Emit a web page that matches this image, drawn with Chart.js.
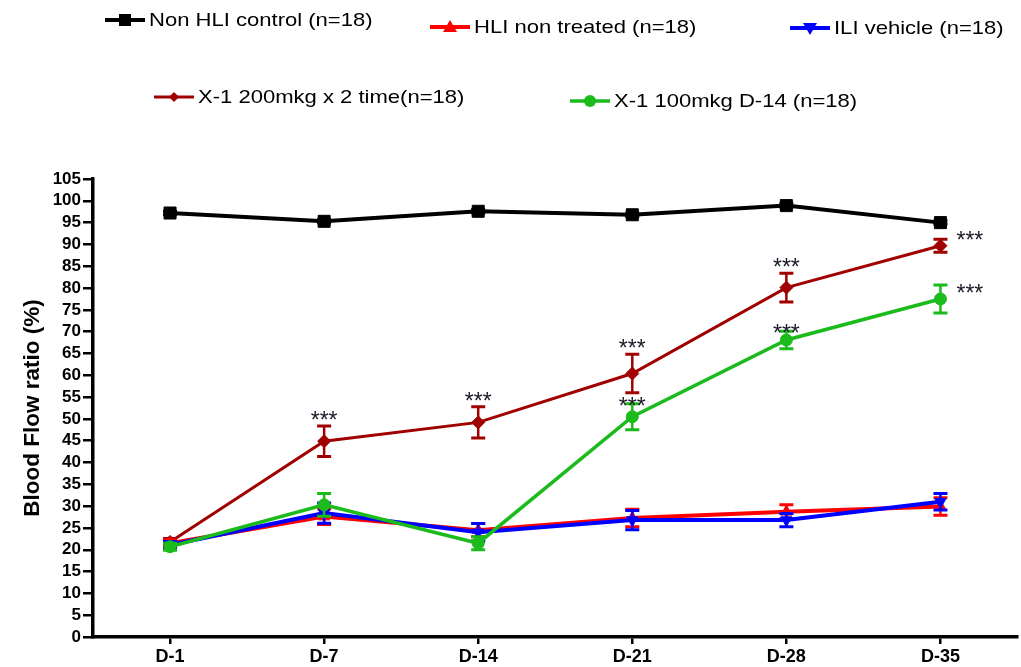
<!DOCTYPE html>
<html><head><meta charset="utf-8">
<script src="https://cdn.jsdelivr.net/npm/chart.js@4.4.1/dist/chart.umd.min.js"></script>
<style>
html,body{margin:0;padding:0;background:#fff;}
#wrap{position:relative;width:1021px;height:667px;overflow:hidden;}
#chart{position:absolute;left:0;top:0;}
.leg{position:absolute;display:flex;align-items:center;font-family:"Liberation Sans",Arial,sans-serif;font-size:19px;color:#000;white-space:nowrap;}
.leg svg{display:block;flex:none;}
.leg span{display:inline-block;transform:scaleX(1.16);transform-origin:left center;margin-left:4px;}
</style></head>
<body>
<div id="wrap"><canvas id="chart" width="1027" height="667"></canvas></div>
<script>
// ---- data ----
const categories = ['D-1', 'D-7', 'D-14', 'D-21', 'D-28', 'D-35'];
const seriesNames = ['Non HLI control (n=18)', 'HLI non treated (n=18)', 'ILI vehicle (n=18)', 'X-1 200mkg x 2 time(n=18)', 'X-1 100mkg D-14 (n=18)'];
const nonHliControl = [97.2, 95.3, 97.6, 96.8, 98.9, 95.0];
const nonHliControlSem = [0.4, 0.4, 0.4, 0.4, 0.4, 0.4];
const hliNonTreated = [21.5, 27.6, 24.5, 27.3, 28.7, 29.9];
const hliNonTreatedSem = [0.8, 1.8, 1.5, 2.0, 1.6, 2.0];
const iliVehicle = [21.1, 28.4, 24.0, 26.8, 26.8, 31.0];
const iliVehicleSem = [0.8, 2.3, 2.0, 2.2, 1.5, 1.9];
const x1High = [21.8, 44.9, 49.2, 60.4, 80.1, 89.7];
const x1HighSem = [0.8, 3.5, 3.6, 4.4, 3.3, 1.5];
const x1Low = [20.7, 30.3, 21.5, 50.5, 68.1, 77.5];
const x1LowSem = [0.8, 2.6, 1.5, 3.0, 2.0, 3.2];
// significance marks (category indices) for the two X-1 series
const sigHigh = [1, 2, 3, 4, 5];
const sigLow = [3, 4, 5];
const sigLabel = '***';
const yTicksMin = 0, yTicksMax = 105, yTicksStep = 5;
const yTitle = 'Blood Flow ratio (%)';

// ---- styles ----
const colors = ['#000000', '#ff0000', '#0000ff', '#a00000', '#1cbb1c'];
const styles = [
  {pointStyle: 'rect', radius: 8.5, rotation: 0, width: 4},
  {pointStyle: 'triangle', radius: 6.5, rotation: 0, width: 4},
  {pointStyle: 'triangle', radius: 6.5, rotation: 180, width: 4},
  {pointStyle: 'rectRot', radius: 6.5, rotation: 0, width: 3},
  {pointStyle: 'circle', radius: 6, rotation: 0, width: 3.5}
];
const values = [nonHliControl, hliNonTreated, iliVehicle, x1High, x1Low];
const sems = [nonHliControlSem, hliNonTreatedSem, iliVehicleSem, x1HighSem, x1LowSem];
const drawOrder = [5, 3, 2, 4, 1];

const datasets = values.map((v, i) => ({
  label: seriesNames[i],
  data: v,
  sem: sems[i],
  borderColor: colors[i],
  backgroundColor: colors[i],
  borderWidth: styles[i].width,
  pointStyle: styles[i].pointStyle,
  pointRadius: styles[i].radius,
  pointRotation: styles[i].rotation,
  pointBorderWidth: 1,
  tension: 0,
  order: drawOrder[i]
}));

const errorBars = {
  id: 'errorBars',
  afterDatasetDraw(chart, args) {
    const ds = chart.data.datasets[args.index];
    const meta = args.meta;
    const y = chart.scales.y;
    const ctx = chart.ctx;
    ctx.save();
    ctx.strokeStyle = ds.borderColor;
    meta.data.forEach((pt, j) => {
      const v = ds.data[j], s = ds.sem[j];
      const yt = y.getPixelForValue(v + s), yb = y.getPixelForValue(v - s);
      const x = pt.x;
      ctx.lineWidth = 2.5;
      ctx.beginPath(); ctx.moveTo(x, yt); ctx.lineTo(x, yb); ctx.stroke();
      ctx.lineWidth = 3;
      ctx.beginPath();
      ctx.moveTo(x - 7, yt); ctx.lineTo(x + 7, yt);
      ctx.moveTo(x - 7, yb); ctx.lineTo(x + 7, yb);
      ctx.stroke();
    });
    ctx.restore();
  }
};

const sigMarks = {
  id: 'sigMarks',
  afterDatasetsDraw(chart) {
    const ctx = chart.ctx;
    const y = chart.scales.y, x = chart.scales.x;
    ctx.save();
    ctx.fillStyle = '#1a1a2a';
    ctx.font = '23px "Liberation Sans", Arial, sans-serif';
    ctx.textBaseline = 'alphabetic';
    const last = categories.length - 1;
    const glyphMid = 13; // asterisk centre above the baseline
    const put = (si, ci, gap) => {
      const cx = x.getPixelForValue(ci);
      if (ci === last) {
        const py = y.getPixelForValue(values[si][ci]);
        ctx.textAlign = 'left';
        ctx.fillText(sigLabel, cx + 16, py - 11 + glyphMid);
      } else {
        const top = y.getPixelForValue(values[si][ci] + sems[si][ci]);
        ctx.textAlign = 'center';
        ctx.fillText(sigLabel, cx, top - gap + glyphMid);
      }
    };
    sigHigh.forEach(ci => put(3, ci, 11));
    sigLow.forEach(ci => put(4, ci, 3));
    ctx.restore();
  }
};

new Chart(document.getElementById('chart'), {
  type: 'line',
  data: {labels: categories, datasets},
  plugins: [errorBars, sigMarks],
  options: {
    responsive: false,
    animation: false,
    layout: {padding: {top: 179, right: 0, left: 0, bottom: 0}},
    plugins: {legend: {display: false}, tooltip: {enabled: false}},
    scales: {
      x: {
        offset: true,
        grid: {display: true, drawOnChartArea: false, drawTicks: true, tickLength: 7, color: '#000', lineWidth: 2.5, offset: false},
        border: {display: true, color: '#000', width: 3.5},
        ticks: {color: '#000', padding: 2, font: {family: '"Liberation Sans", Arial, sans-serif', size: 18, weight: 'bold'}},
        afterFit(s) { s.height = 30; }
      },
      y: {
        min: yTicksMin, max: yTicksMax,
        grid: {display: true, drawOnChartArea: false, drawTicks: true, tickLength: 10, color: '#000', lineWidth: 2.5},
        border: {display: true, color: '#000', width: 3.5},
        ticks: {stepSize: yTicksStep, color: '#000', padding: 2, autoSkip: false, font: {family: '"Liberation Sans", Arial, sans-serif', size: 17, weight: 'bold'}},
        title: {display: true, text: yTitle, color: '#000', padding: {top: 19, bottom: 0}, font: {family: '"Liberation Sans", Arial, sans-serif', size: 22.5, weight: 'bold'}},
        afterFit(s) { s.width = 93; }
      }
    }
  }
});

// ---- HTML legend ----
const legendPos = [[105, 20], [430, 27], [790, 28], [154, 97], [570, 101]];
const wrap = document.getElementById('wrap');
seriesNames.forEach((name, i) => {
  const d = document.createElement('div');
  d.className = 'leg';
  d.style.left = legendPos[i][0] + 'px';
  d.style.top = (legendPos[i][1] - 12) + 'px';
  d.style.height = '24px';
  const c = colors[i];
  let m = '';
  if (i === 0) m = `<rect x="14" y="6" width="12" height="12" fill="${c}"/>`;
  if (i === 1) m = `<polygon points="20,5 27,17 13,17" fill="${c}"/>`;
  if (i === 2) m = `<polygon points="20,19 27,7 13,7" fill="${c}"/>`;
  if (i === 3) m = `<polygon points="20,7 25,12 20,17 15,12" fill="${c}"/>`;
  if (i === 4) m = `<circle cx="20" cy="12" r="6" fill="${c}"/>`;
  d.innerHTML = `<svg width="40" height="24"><line x1="0" y1="12" x2="40" y2="12" stroke="${c}" stroke-width="${styles[i].width}"/>${m}</svg><span>${name}</span>`;
  wrap.appendChild(d);
});
</script>
</body></html>
